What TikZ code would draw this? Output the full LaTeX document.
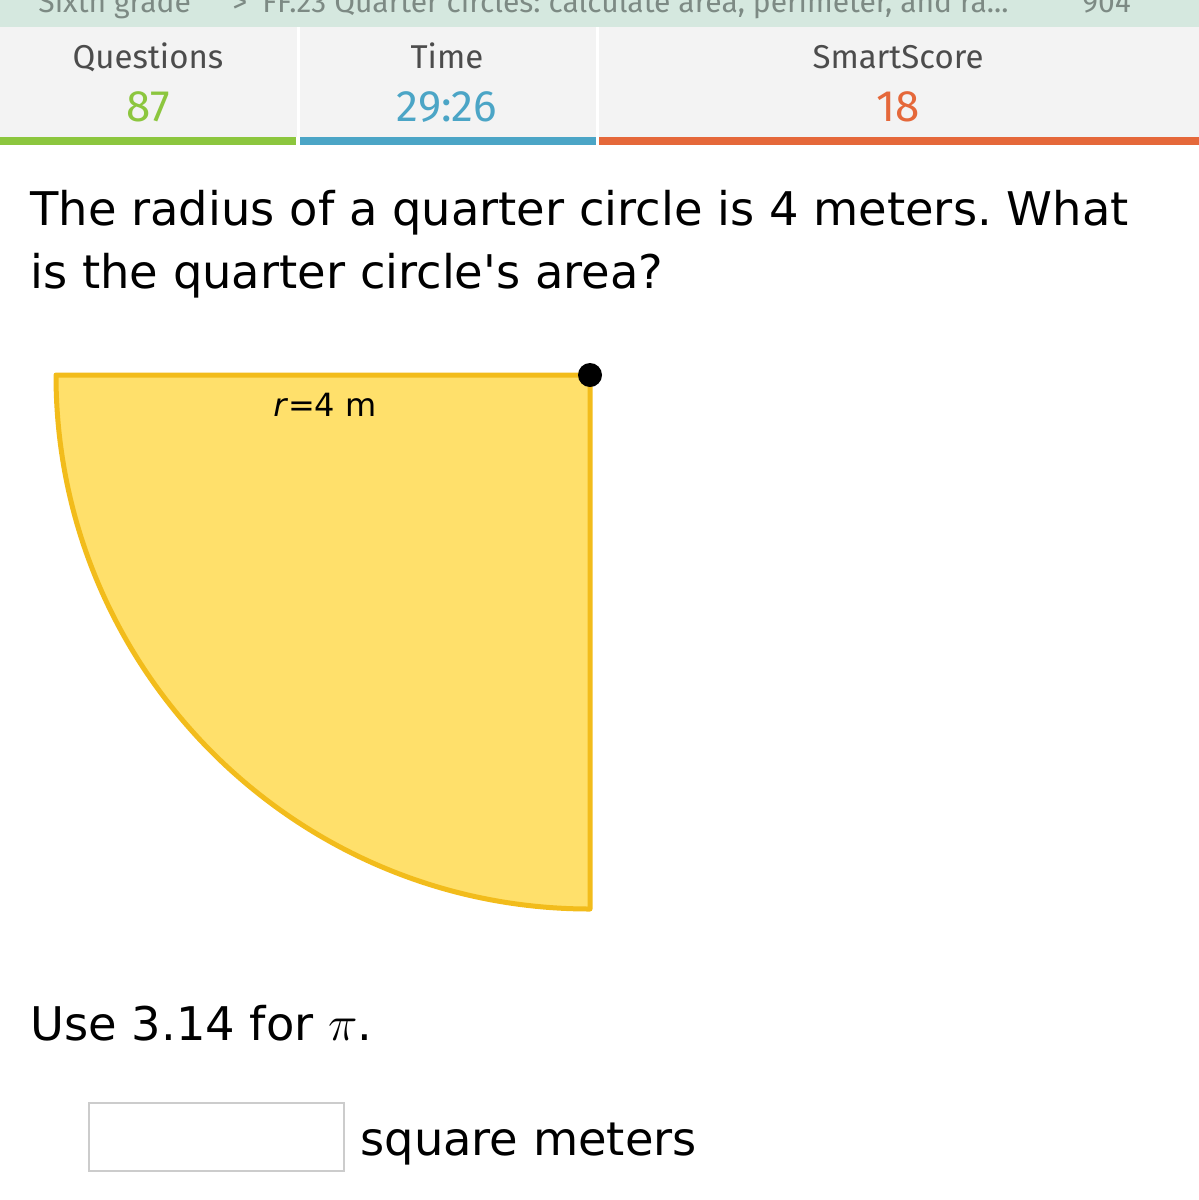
\documentclass[tikz,border=0pt]{standalone}
\usepackage{fontspec}
\setmainfont{DejaVu Sans}
\newfontfamily\statfont{Fira Sans}
\newfontfamily\quotefont{DejaVu Sans}
\usetikzlibrary{positioning}
\frenchspacing
\definecolor{topbar}{HTML}{D5E8DF}
\definecolor{statbg}{HTML}{F3F3F3}
\definecolor{qgreen}{HTML}{8CC63E}
\definecolor{tblue}{HTML}{4BA5C6}
\definecolor{sorange}{HTML}{E5683A}
\definecolor{crumb}{HTML}{7D8A84}
\definecolor{quarterfill}{HTML}{FFE06B}
\definecolor{quarteredge}{HTML}{F2BC1B}
\tikzset{
  stat title/.style={font={\statfont\fontsize{16.5}{18}\selectfont},text=black!70,anchor=base},
  stat value/.style={font={\statfont\fontsize{22}{24}\selectfont},anchor=base},
  crumb text/.style={font={\statfont\fontsize{15}{18}\selectfont},text=crumb,anchor=base west,inner sep=0pt},
  body text/.style={font={\fontsize{23.2}{30}\selectfont},anchor=base west,inner sep=0pt},
  quarter/.style={fill=quarterfill,draw=quarteredge,line width=2.5pt,line join=round},
  answer box/.style={draw=black!20,line width=1pt,minimum width=127.5pt,minimum height=34pt,inner sep=0pt},
}

\begin{document}
\begin{tikzpicture}[x=0.5pt,y=-0.5pt]
    \useasboundingbox (0,0) rectangle (1199,1200);
    % header
    \fill[topbar] (0,0) rectangle (1199,27);
    \fill[statbg] (0,27) rectangle (1199,137);
    \draw[white,line width=1.5pt] (298,27) -- (298,145);
    \draw[white,line width=1.5pt] (597,27) -- (597,145);
    \fill[qgreen] (0,137) rectangle (296,145);
    \fill[tblue] (300,137) rectangle (596,145);
    \fill[sorange] (599,137) rectangle (1199,145);
    \node[crumb text] (grade) at (38,12) {Sixth grade};
    \node[crumb text] (sep) at (232,12) {>};
    \node[crumb text] (skill) at (262,12) {FF.23 Quarter circles: calculate area, perimeter, and ra...};
    \node[crumb text] (count) at (1082,12) {904};

    \node[stat title] (qtitle) at (148,68) {Questions};
    \node[stat value,text=qgreen] (qvalue) at (148,121) {87};
    \node[stat title] (ttitle) at (447,68) {Time};
    \node[stat value,text=tblue] (tvalue) at (447,121) {29:26};
    \node[stat title] (stitle) at (898,68) {SmartScore};
    \node[stat value,text=sorange] (svalue) at (898,121) {18};

    % question
    \node[body text] (line1) at (30,225) {The radius of a quarter circle is 4 meters. What};
    \node[body text] (line2) at (30,288) {is the quarter circle{\quotefont'}s area?};

    % quarter circle
    \coordinate (centre) at (590,375);
    \coordinate (left) at (56,375);
    \coordinate (bottom) at (590,909);
    \draw[quarter] (left) -- (centre) -- (bottom) arc (90:180:534) -- cycle;
    \fill (centre) circle (6pt);
    \node[font={\fontsize{16}{18}\selectfont}] (radius) at (325,405) {\textit{r}=4 m};

    % answer
    \node[body text] (hint) at (30,1040) {Use 3.14 for $\pi$.};
    \node[answer box,anchor=north west] (answer) at (88,1102) {};
    \node[body text] (unit) at (360,1155) {square meters};
\end{tikzpicture}
\end{document}
